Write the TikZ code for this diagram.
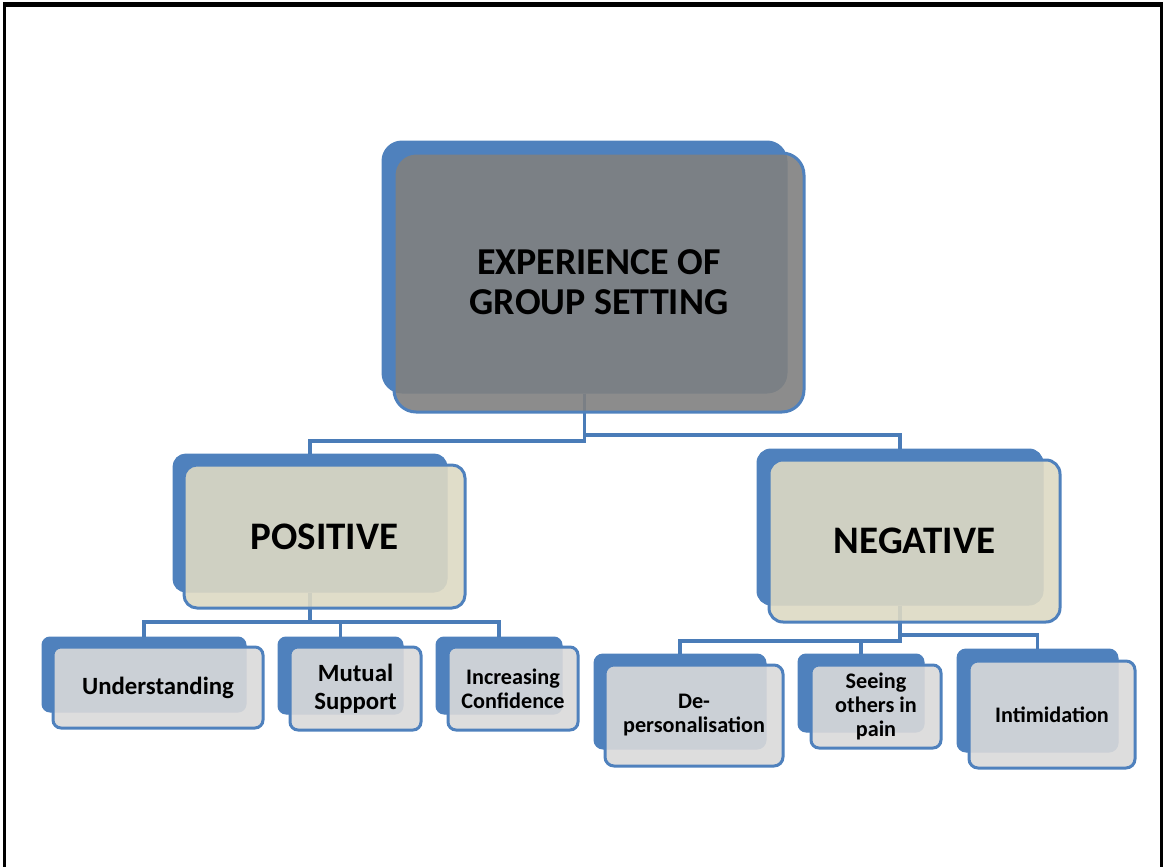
\documentclass[tikz,border=0pt]{standalone}
\usepackage{fontspec}
\setmainfont{Carlito}
\usetikzlibrary{positioning}
\definecolor{boxblue}{HTML}{4F81BD}
\definecolor{linkblue}{HTML}{4A7CB8}
\definecolor{rootgrey}{HTML}{808080}
\definecolor{midtan}{HTML}{DDD9C3}
\definecolor{leafgrey}{HTML}{D9D9D9}

\begin{document}
\begin{tikzpicture}[x=1pt,y=-1pt,
                    back/.style={fill=boxblue, draw=boxblue, line width=1pt, inner sep=0pt},
                    front/.style={draw=boxblue, line width=3pt, fill opacity=0.9,
                                  text opacity=1, inner sep=0pt, align=center},
                    link/.style={draw=linkblue, line width=3.2pt},
                    rootfont/.style={font=\bfseries\fontsize{38}{40}\selectfont},
                    midfont/.style={font=\bfseries\fontsize{39}{42}\selectfont},
                    leaffont/.style={font=\bfseries\fontsize{24.8}{28}\selectfont},
                    smallfont/.style={font=\bfseries\fontsize{22.2}{24}\selectfont}]
    \useasboundingbox (0,0) rectangle (1163,867);
    % frame
    \draw[line width=5pt] (3,5) -- (1163,5);
    \draw[line width=3.5pt] (4.5,3) -- (4.5,867);
    \draw[line width=3pt] (1161.5,3) -- (1161.5,867);
    % back boxes
    \node[back, minimum width=405pt, minimum height=252pt, rounded corners=20pt] (Rootb) at (584.5,267) {};
    \node[back, minimum width=274pt, minimum height=138pt, rounded corners=13pt] (Posb) at (310,523) {};
    \node[back, minimum width=286pt, minimum height=156pt, rounded corners=14pt] (Negb) at (900,527) {};
    \node[back, minimum width=204pt, minimum height=75pt, rounded corners=8pt] (Undb) at (144,674.5) {};
    \node[back, minimum width=125pt, minimum height=77pt, rounded corners=8pt] (Mutb) at (340.5,675.5) {};
    \node[back, minimum width=126pt, minimum height=77pt, rounded corners=8pt] (Incb) at (499,675.5) {};
    \node[back, minimum width=172pt, minimum height=95pt, rounded corners=9pt] (Depb) at (680,701.5) {};
    \node[back, minimum width=126pt, minimum height=78pt, rounded corners=8pt] (Seeb) at (861,693) {};
    \node[back, minimum width=161pt, minimum height=103pt, rounded corners=9pt] (Intb) at (1037.5,700.5) {};
    % connectors
    \coordinate (rootbusL) at (0,441);
    \coordinate (rootbusR) at (0,435);
    \coordinate (posbus) at (0,622);
    \coordinate (negbusL) at (0,641);
    \coordinate (negbusR) at (0,635);
    \draw[link] (Rootb.south) -- (Rootb.south |- rootbusL) -| (Posb.north);
    \draw[link] (Rootb.south) -- (Rootb.south |- rootbusR) -| (Negb.north);
    \draw[link] (Posb.south) -- (Posb.south |- posbus) -| (Undb.north);
    \draw[link] (Posb.south) -- (Posb.south |- posbus) -| (Mutb.north);
    \draw[link] (Posb.south) -- (Posb.south |- posbus) -| (Incb.north);
    \draw[link] (Negb.south) -- (Negb.south |- negbusL) -| (Depb.north);
    \draw[link] (Negb.south) -- (Negb.south |- negbusL) -| (Seeb.north);
    \draw[link] (Negb.south) -- (Negb.south |- negbusR) -| (Intb.north);
    % front boxes
    \node[front, fill=rootgrey, rootfont, minimum width=410pt, minimum height=259pt,
          rounded corners=22pt] (Root) at (599,282.5) {EXPERIENCE OF\\GROUP SETTING};
    \node[front, fill=midtan, midfont, minimum width=281pt, minimum height=143pt,
          rounded corners=13pt] (Pos) at (324.5,536.5) {POSITIVE};
    \node[front, fill=midtan, midfont, minimum width=291pt, minimum height=162pt,
          rounded corners=14pt] (Neg) at (914.5,541) {NEGATIVE};
    \node[front, fill=leafgrey, leaffont, minimum width=210pt, minimum height=81pt,
          rounded corners=8pt] (Und) at (158,687.5) {Understanding};
    \node[front, fill=leafgrey, leaffont, minimum width=131pt, minimum height=83pt,
          rounded corners=8pt] (Mut) at (355.5,688.5) {Mutual\\Support};
    \node[front, fill=leafgrey, smallfont, minimum width=130pt, minimum height=83pt,
          rounded corners=8pt] (Inc) at (513,688.5) {Increasing\\Confidence};
    \node[front, fill=leafgrey, smallfont, minimum width=178pt, minimum height=101pt,
          rounded corners=9pt] (Dep) at (694,715.5) {De-\\personalisation};
    \node[front, fill=leafgrey, smallfont, minimum width=130pt, minimum height=83pt,
          rounded corners=8pt] (See) at (876,706.5) {Seeing\\others in\\pain};
    \node[front, fill=leafgrey, smallfont, minimum width=166pt, minimum height=107pt,
          rounded corners=9pt] (Int) at (1052,714.5) {Intimidation};
\end{tikzpicture}
\end{document}
